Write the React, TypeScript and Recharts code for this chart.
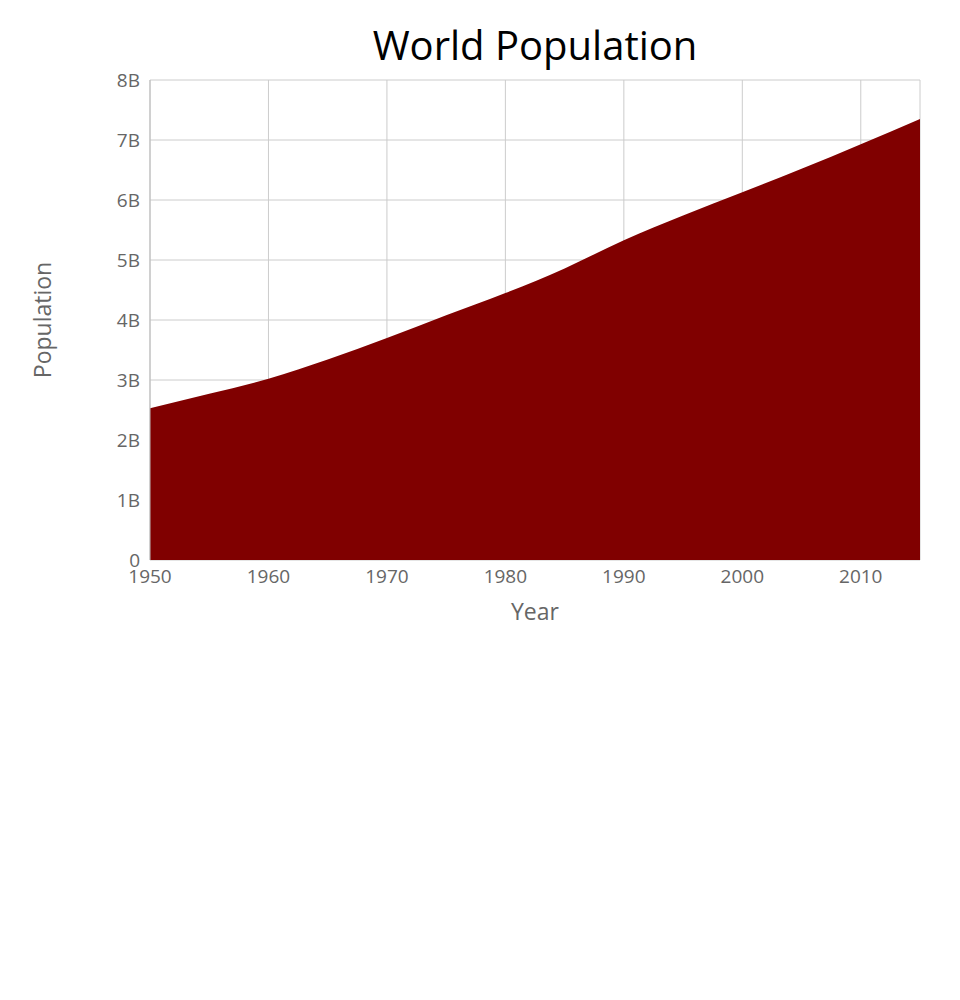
import { AreaChart, Area, XAxis, YAxis, CartesianGrid } from 'recharts'

const years = [1950, 1955, 1960, 1965, 1970, 1975, 1980, 1985, 1990, 1995, 2000, 2005, 2010, 2015]
const population = [2.53, 2.77, 3.02, 3.34, 3.7, 4.08, 4.45, 4.86, 5.33, 5.74, 6.13, 6.52, 6.93, 7.35]
const yearTicks = [1950, 1960, 1970, 1980, 1990, 2000, 2010]
const popTicks = [0, 1e9, 2e9, 3e9, 4e9, 5e9, 6e9, 7e9, 8e9]

const data = years.map((year, i) => ({ year, pop: population[i] * 1e9 }))

const font = '"Open Sans", sans-serif'
const textColor = '#666'

function formatPop(v: number) {
  if (v === 0) return '0'
  return `${v / 1e9}B`
}

export default function App() {
  return (
    <div style={{ position: 'absolute', left: 0, top: 0, width: 960, height: 1000, fontFamily: font, background: '#fff' }}>
      <div
        style={{
          position: 'absolute',
          left: 150,
          width: 770,
          top: 17,
          textAlign: 'center',
          fontSize: 40,
          color: '#000',
        }}
      >
        World Population
      </div>
      <div
        style={{
          position: 'absolute',
          left: 42,
          top: 320,
          transform: 'translate(-50%, -50%) rotate(-90deg)',
          fontSize: 23,
          color: textColor,
          whiteSpace: 'nowrap',
        }}
      >
        Population
      </div>
      <div
        style={{
          position: 'absolute',
          left: 535,
          top: 611,
          transform: 'translate(-50%, -50%)',
          fontSize: 23,
          color: textColor,
        }}
      >
        Year
      </div>
      <AreaChart
        width={960}
        height={650}
        data={data}
        margin={{ top: 80, right: 40, bottom: 60, left: 90 }}
        style={{ position: 'absolute', left: 0, top: 0 }}
      >
        <CartesianGrid stroke="#ccc" vertical horizontal />
        <XAxis
          dataKey="year"
          type="number"
          domain={[1950, 2015]}
          ticks={yearTicks}
          tickSize={0}
          tickMargin={10}
          axisLine={false}
          height={30}
          tick={{ fontSize: 19, fill: textColor, fontFamily: font }}
        />
        <YAxis
          type="number"
          domain={[0, 8e9]}
          ticks={popTicks}
          tickFormatter={formatPop}
          tickSize={0}
          tickMargin={10}
          axisLine={{ stroke: '#bbb' }}
          width={60}
          tick={{ fontSize: 19, fill: textColor, fontFamily: font }}
        />
        <Area
          type="monotone"
          dataKey="pop"
          stroke="none"
          fill="#800000"
          fillOpacity={1}
          isAnimationActive={false}
        />
      </AreaChart>
    </div>
  )
}
